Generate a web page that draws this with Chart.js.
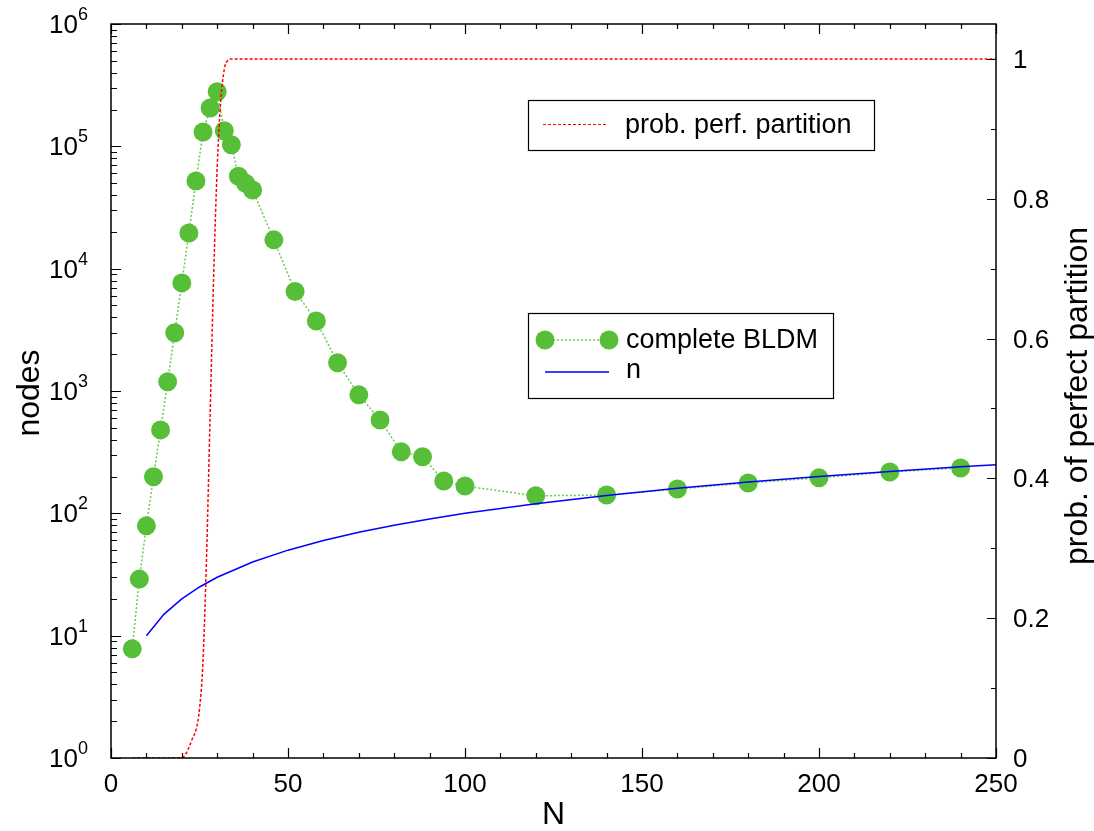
<!DOCTYPE html>
<html><head><meta charset="utf-8">
<script src="https://cdn.jsdelivr.net/npm/chart.js"></script>
<style>html,body{margin:0;padding:0;background:#fff}#wrap{width:1094px;height:831px;position:relative}</style>
</head><body><div id="wrap"><canvas id="c" width="1094" height="831"></canvas></div>
<script>
// ---- data ----
const bldmN = [6,8,10,12,14,16,18,20,22,24,26,28,30,32,34,36,38,40,46,52,58,64,70,76,82,88,94,100,120,140,160,180,200,220,240];
const bldmNodes = [7.8,29,79,199,481,1190,2990,7650,19600,52000,131000,206000,279000,134000,103000,57000,50000,44000,17200,6500,3740,1700,930,580,318,290,184,167,139,141,158,177,195,218,235];
const nN = [10,15,20,25,30,40,50,60,70,80,90,100,120,140,160,180,200,220,240,250];
const nValues = [10,15,20,25,30,40,50,60,70,80,90,100,120,140,160,180,200,220,240,250];
const probN = [6,10,15,20,21,22,23,24,25,26,27,28,29,30,31,32,33,34,40,60,100,150,200,250];
const probValues = [0,0,0,0,0.005,0.015,0.028,0.04,0.07,0.14,0.29,0.49,0.69,0.845,0.94,0.985,0.998,1,1,1,1,1,1,1];
const xTickLabels = ['0','50','100','150','200','250'];
const xTickValues = [0,50,100,150,200,250];
const yLeftExponents = [0,1,2,3,4,5,6];
const yRightTickValues = [0,0.2,0.4,0.6,0.8,1];
const yRightTickLabels = ['0','0.2','0.4','0.6','0.8','1'];

const FONT = '"Liberation Sans", Arial, sans-serif';
const GREEN = 'rgb(86,191,55)';
const GREEN_LINE = 'rgb(110,200,80)';

const toXY = (xs, ys) => xs.map((x, i) => ({x, y: ys[i]}));

const deco = {
  id: 'deco',
  afterDraw(chart) {
    const ctx = chart.ctx;
    const a = chart.chartArea;
    const sx = chart.scales.x, sy = chart.scales.y, sr = chart.scales.y1;
    ctx.save();
    ctx.strokeStyle = '#000';
    ctx.fillStyle = '#000';
    ctx.lineWidth = 1.5;
    ctx.strokeRect(a.left, a.top, a.right - a.left, a.bottom - a.top);
    ctx.lineWidth = 1.2;
    ctx.beginPath();
    for (let v = 0; v <= 250; v += 10) {
      const px = Math.round(sx.getPixelForValue(v)) + 0.5;
      const len = v % 50 === 0 ? 10 : 5;
      ctx.moveTo(px, a.bottom); ctx.lineTo(px, a.bottom - len);
      ctx.moveTo(px, a.top); ctx.lineTo(px, a.top + len);
    }
    for (const e of yLeftExponents) {
      const py = Math.round(sy.getPixelForValue(Math.pow(10, e))) + 0.5;
      ctx.moveTo(a.left, py); ctx.lineTo(a.left + 10, py);
      if (e < 6) {
        for (let m = 2; m <= 9; m++) {
          const q = Math.round(sy.getPixelForValue(m * Math.pow(10, e))) + 0.5;
          ctx.moveTo(a.left, q); ctx.lineTo(a.left + 6, q);
        }
      }
    }
    for (let k = 0; k <= 10; k++) {
      const v = k / 10;
      const py = Math.round(sr.getPixelForValue(v)) + 0.5;
      const len = k % 2 === 0 ? 9 : 5;
      ctx.moveTo(a.right, py); ctx.lineTo(a.right - len, py);
    }
    ctx.stroke();

    ctx.font = '26px ' + FONT;
    ctx.textBaseline = 'alphabetic';
    ctx.textAlign = 'center';
    xTickValues.forEach((v, i) => {
      ctx.fillText(xTickLabels[i], sx.getPixelForValue(v), 792);
    });
    ctx.textAlign = 'left';
    yRightTickValues.forEach((v, i) => {
      ctx.fillText(yRightTickLabels[i], 1013, sr.getPixelForValue(v) + 9);
    });
    for (const e of yLeftExponents) {
      const py = sy.getPixelForValue(Math.pow(10, e));
      ctx.font = '26px ' + FONT;
      ctx.textAlign = 'right';
      ctx.fillText('10', 78, py + 9);
      ctx.font = '18px ' + FONT;
      ctx.textAlign = 'left';
      ctx.fillText(String(e), 78, py - 4);
    }

    ctx.font = '32px ' + FONT;
    ctx.textAlign = 'center';
    ctx.fillText('N', (a.left + a.right) / 2, 824);
    ctx.save();
    ctx.translate(30, 393);
    ctx.rotate(-Math.PI / 2);
    ctx.font = '32px ' + FONT;
    ctx.textBaseline = 'middle';
    ctx.fillText('nodes', 0, 0);
    ctx.restore();
    ctx.save();
    ctx.translate(1078, 396);
    ctx.rotate(-Math.PI / 2);
    ctx.font = '32px ' + FONT;
    ctx.textBaseline = 'middle';
    ctx.fillText('prob. of perfect partition', 0, 0);
    ctx.restore();

    ctx.fillStyle = '#fff';
    ctx.fillRect(528, 100, 346, 50);
    ctx.strokeStyle = '#000';
    ctx.lineWidth = 1.2;
    ctx.strokeRect(528.5, 100.5, 346, 50);
    ctx.strokeStyle = 'rgb(255,0,0)';
    ctx.setLineDash([3, 2]);
    ctx.beginPath(); ctx.moveTo(543, 124.5); ctx.lineTo(607, 124.5); ctx.stroke();
    ctx.setLineDash([]);
    ctx.fillStyle = '#000';
    ctx.font = '27px ' + FONT;
    ctx.textAlign = 'left';
    ctx.textBaseline = 'middle';
    ctx.fillText('prob. perf. partition', 625, 126);

    ctx.fillStyle = '#fff';
    ctx.fillRect(528, 313, 305, 85);
    ctx.strokeStyle = '#000';
    ctx.strokeRect(528.5, 313.5, 305, 85);
    ctx.strokeStyle = GREEN_LINE;
    ctx.lineWidth = 1.5;
    ctx.setLineDash([2, 2]);
    ctx.beginPath(); ctx.moveTo(545, 340); ctx.lineTo(609, 340); ctx.stroke();
    ctx.setLineDash([]);
    ctx.fillStyle = GREEN;
    [545, 609].forEach(cx => { ctx.beginPath(); ctx.arc(cx, 340, 9.5, 0, Math.PI * 2); ctx.fill(); });
    ctx.strokeStyle = 'rgb(0,0,255)';
    ctx.lineWidth = 1.5;
    ctx.beginPath(); ctx.moveTo(545, 372); ctx.lineTo(609, 372); ctx.stroke();
    ctx.fillStyle = '#000';
    ctx.fillText('complete BLDM', 626, 341);
    ctx.fillText('n', 626, 371);
    ctx.restore();
  }
};

new Chart(document.getElementById('c'), {
  type: 'scatter',
  data: {
    datasets: [
      {
        label: 'prob. perf. partition',
        data: toXY(probN, probValues),
        yAxisID: 'y1',
        showLine: true,
        borderColor: 'rgb(255,0,0)',
        borderWidth: 1.5,
        borderDash: [3, 2],
        pointRadius: 0,
        cubicInterpolationMode: 'monotone'
      },
      {
        label: 'n',
        data: toXY(nN, nValues),
        yAxisID: 'y',
        showLine: true,
        borderColor: 'rgb(0,0,255)',
        borderWidth: 1.5,
        pointRadius: 0
      },
      {
        label: 'complete BLDM',
        data: toXY(bldmN, bldmNodes),
        yAxisID: 'y',
        showLine: true,
        borderColor: GREEN_LINE,
        borderWidth: 1.5,
        borderDash: [2, 2],
        pointRadius: 9.5,
        pointBackgroundColor: GREEN,
        pointBorderWidth: 0,
        pointBorderColor: GREEN
      }
    ]
  },
  options: {
    responsive: false,
    animation: false,
    devicePixelRatio: 1,
    layout: { padding: { top: 24, left: 0, right: 0, bottom: 0 } },
    plugins: { legend: { display: false }, tooltip: { enabled: false } },
    scales: {
      x: {
        type: 'linear', min: 0, max: 250, position: 'bottom',
        grid: { display: false }, border: { display: false },
        ticks: { display: false },
        afterFit: s => { s.height = 73; }
      },
      y: {
        type: 'logarithmic', min: 1, max: 1e6, position: 'left',
        grid: { display: false }, border: { display: false },
        ticks: { display: false },
        afterFit: s => { s.width = 111; }
      },
      y1: {
        type: 'linear', min: 0, max: 1.05, position: 'right',
        grid: { display: false }, border: { display: false },
        ticks: { display: false },
        afterFit: s => { s.width = 98; }
      }
    }
  },
  plugins: [deco]
});
</script>
</body></html>
